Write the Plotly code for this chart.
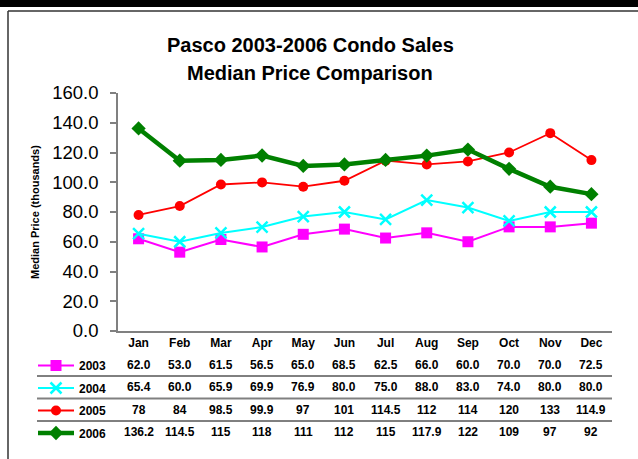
import plotly.graph_objects as go

months = ["Jan", "Feb", "Mar", "Apr", "May", "Jun", "Jul", "Aug", "Sep", "Oct", "Nov", "Dec"]
years = ["2003", "2004", "2005", "2006"]
v2003 = [62.0, 53.0, 61.5, 56.5, 65.0, 68.5, 62.5, 66.0, 60.0, 70.0, 70.0, 72.5]
v2004 = [65.4, 60.0, 65.9, 69.9, 76.9, 80.0, 75.0, 88.0, 83.0, 74.0, 80.0, 80.0]
v2005 = [78, 84, 98.5, 99.9, 97, 101, 114.5, 112, 114, 120, 133, 114.9]
v2006 = [136.2, 114.5, 115, 118, 111, 112, 115, 117.9, 122, 109, 97, 92]
series = [v2003, v2004, v2005, v2006]
formats = ["{:.1f}", "{:.1f}", "{:g}", "{:g}"]

W, H = 638, 459
FONT = "Liberation Sans, Arial, sans-serif"

def fx(px):
    return px / W

def fy(py):
    return 1 - py / H

styles = [
    dict(color="#FF00FF", width=2, symbol="square", size=11, mline=0),
    dict(color="#00FFFF", width=2, symbol="x-thin", size=11, mline=2.5),
    dict(color="#FF0000", width=1.8, symbol="circle", size=10, mline=0),
    dict(color="#008000", width=4.5, symbol="diamond", size=11, mline=0),
]

fig = go.Figure()
for i, (yr, vals) in enumerate(zip(years, series)):
    s = styles[i]
    fig.add_trace(go.Scatter(
        x=months, y=vals, name=yr, mode="lines+markers",
        legendgroup=yr,
        line=dict(color=s["color"], width=s["width"]),
        marker=dict(symbol=s["symbol"], size=s["size"], color=s["color"],
                    line=dict(color=s["color"], width=s["mline"])),
    ))

plot_left, plot_right, plot_top, plot_bottom = 118, 612, 93, 331

annotations = []
annotations.append(dict(text="<b>Pasco 2003-2006 Condo Sales</b>", x=fx(310), y=fy(45),
                        xref="paper", yref="paper", showarrow=False, xanchor="center", yanchor="middle",
                        font=dict(family=FONT, size=20, color="black")))
annotations.append(dict(text="<b>Median Price Comparison</b>", x=fx(310), y=fy(73),
                        xref="paper", yref="paper", showarrow=False, xanchor="center", yanchor="middle",
                        font=dict(family=FONT, size=20, color="black")))
annotations.append(dict(text="<b>Median Price (thousands)</b>", x=fx(35), y=fy((plot_top + plot_bottom) / 2),
                        xref="paper", yref="paper", showarrow=False, textangle=-90,
                        xanchor="center", yanchor="middle",
                        font=dict(family=FONT, size=11, color="black")))
row_y = [365, 387, 410, 432]
for r, vals in enumerate(series):
    for m, v in zip(months, vals):
        annotations.append(dict(text="<b>" + formats[r].format(v) + "</b>", x=m, y=fy(row_y[r]),
                                xref="x", yref="paper", showarrow=False,
                                xanchor="center", yanchor="middle",
                                font=dict(family=FONT, size=12, color="black")))

shapes = [
    dict(type="rect", xref="paper", yref="paper", x0=0, x1=1, y0=fy(0), y1=fy(7),
         fillcolor="black", line=dict(width=0), layer="above"),
    dict(type="line", xref="paper", yref="paper", x0=fx(8), x1=1, y0=fy(11), y1=fy(11),
         line=dict(color="#333333", width=1.5)),
    dict(type="line", xref="paper", yref="paper", x0=fx(8), x1=fx(8), y0=fy(11), y1=0,
         line=dict(color="#333333", width=1.5)),
    dict(type="line", xref="paper", yref="paper", x0=fx(37), x1=fx(plot_right), y0=fy(376), y1=fy(376),
         line=dict(color="black", width=1)),
    dict(type="line", xref="paper", yref="paper", x0=fx(37), x1=fx(plot_right), y0=fy(398.5), y1=fy(398.5),
         line=dict(color="#808080", width=2)),
    dict(type="line", xref="paper", yref="paper", x0=fx(37), x1=fx(plot_right), y0=fy(421), y1=fy(421),
         line=dict(color="black", width=1)),
]

fig.update_layout(
    width=W, height=H,
    margin=dict(l=0, r=0, t=0, b=0, pad=0, autoexpand=False),
    paper_bgcolor="white", plot_bgcolor="white",
    font=dict(family=FONT, color="black"),
    showlegend=True,
    legend=dict(x=fx(33), y=fy(351), xanchor="left", yanchor="top",
                font=dict(family=FONT, size=12, color="black", weight="bold"),
                itemwidth=36, tracegroupgap=3.5, bgcolor="rgba(0,0,0,0)",
                traceorder="grouped"),
    xaxis=dict(domain=[fx(plot_left), fx(plot_right)], type="category", range=[-0.5, 11.5],
               showline=True, linecolor="#808080", linewidth=1.5, automargin=False,
               ticks="", showgrid=False, zeroline=False,
               tickfont=dict(family=FONT, size=12, color="black", weight="bold"),
               ticklabelstandoff=0),
    yaxis=dict(domain=[fy(plot_bottom), fy(plot_top)], range=[0, 160], dtick=20,
               tickformat=".1f", showline=True, linecolor="#808080", linewidth=1.5,
               ticks="outside", ticklen=6, tickcolor="#808080", tickwidth=1.5, automargin=False,
               showgrid=False, zeroline=False,
               tickfont=dict(family=FONT, size=18.5, color="black"),
               ticklabelstandoff=8),
    annotations=annotations,
    shapes=shapes,
)

fig.write_html("out.html", config={"displayModeBar": False},
               post_script="document.body.style.margin='0';document.body.style.overflow='hidden';")
